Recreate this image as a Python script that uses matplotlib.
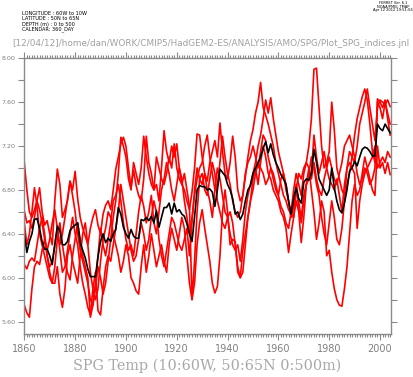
import numpy as np
import matplotlib
matplotlib.use("Agg")
import matplotlib.pyplot as plt
from matplotlib.ticker import MultipleLocator, FormatStrFormatter

# SPG temperature indices, 1860-2004 (five members in red, ensemble mean in black)
years = np.arange(1860, 2005)

mean = [6.40, 6.23, 6.33, 6.40, 6.53, 6.54, 6.45, 6.33, 6.26, 6.26,
        6.20, 6.12, 6.30, 6.47, 6.43, 6.30, 6.30, 6.33, 6.43, 6.46,
        6.48, 6.50, 6.32, 6.25, 6.18, 6.08, 6.01, 6.01, 6.01, 6.19,
        6.33, 6.40, 6.32, 6.36, 6.33, 6.40, 6.44, 6.64, 6.58, 6.46,
        6.40, 6.36, 6.44, 6.38, 6.36, 6.36, 6.53, 6.52, 6.55, 6.52,
        6.56, 6.50, 6.61, 6.46, 6.55, 6.64, 6.64, 6.68, 6.58, 6.68,
        6.60, 6.62, 6.58, 6.56, 6.49, 6.40, 6.33, 6.55, 6.80, 6.84,
        6.83, 6.83, 6.80, 6.81, 6.78, 6.65, 6.80, 6.99, 6.96, 6.93,
        6.85, 6.80, 6.72, 6.58, 6.60, 6.53, 6.58, 6.70, 6.80, 6.84,
        6.95, 7.00, 7.05, 7.10, 7.18, 7.24, 7.14, 7.22, 7.12, 7.05,
        7.00, 6.94, 6.90, 6.85, 6.70, 6.58, 6.72, 6.82, 6.72, 6.68,
        6.87, 6.90, 6.89, 6.95, 7.17, 7.05, 6.90, 6.85, 6.80, 6.75,
        6.80, 7.00, 6.82, 6.70, 6.62, 6.59, 6.68, 6.80, 6.97, 7.00,
        7.06, 7.02, 7.10, 7.17, 7.19, 7.18, 7.15, 7.11, 7.11, 7.40,
        7.36, 7.34, 7.40, 7.36, 7.32]

run1 = [7.05, 6.80, 6.60, 6.55, 6.62, 6.70, 6.82, 6.60, 6.48, 6.52,
        6.40, 6.30, 6.70, 6.99, 6.85, 6.55, 6.62, 6.70, 6.88, 6.80,
        6.97, 6.72, 6.55, 6.45, 6.38, 6.30, 6.45, 6.55, 6.62, 6.48,
        6.40, 6.58, 6.66, 6.70, 6.62, 6.80, 6.99, 7.10, 7.22, 7.28,
        7.20, 7.00, 6.82, 6.98, 6.84, 6.75, 6.70, 6.90, 7.29, 7.05,
        6.95, 6.80, 6.85, 6.70, 7.00, 7.34, 7.15, 7.05, 7.20, 7.10,
        7.22, 7.00, 6.85, 6.80, 6.70, 6.62, 6.78, 7.00, 7.31, 7.30,
        7.10, 6.95, 6.88, 7.05, 7.15, 7.25, 7.10, 7.41, 7.15, 6.95,
        6.90, 7.05, 7.29, 7.10, 6.80, 6.70, 6.75, 6.92, 7.10, 7.25,
        7.35, 7.50, 7.60, 7.78, 7.55, 7.48, 7.40, 7.30, 7.20, 7.05,
        6.95, 6.85, 6.75, 6.70, 6.62, 6.58, 6.55, 6.80, 6.95, 6.90,
        7.00, 7.05, 7.20, 7.45, 7.90, 7.91, 7.55, 7.20, 7.00, 7.05,
        7.15, 7.60, 7.35, 7.00, 6.90, 6.80, 6.75, 6.85, 6.95, 7.10,
        7.30, 7.45, 7.55, 7.65, 7.72, 7.62, 7.40, 7.15, 7.05, 7.63,
        7.60, 7.55, 7.62, 7.45, 7.30]

run2 = [5.75, 5.68, 5.64, 5.90, 6.10, 6.15, 6.12, 6.25, 6.35, 6.20,
        6.05, 5.95, 5.95, 6.10, 5.85, 5.73, 5.90, 6.20, 6.30, 6.15,
        6.05, 5.95, 6.20, 6.40, 6.50, 6.30, 6.05, 5.90, 5.80, 5.90,
        6.15, 6.35, 6.45, 6.60, 6.55, 6.40, 6.30, 6.20, 6.05, 6.15,
        6.30, 6.20, 6.00, 5.95, 5.88, 5.85, 6.10, 6.30, 6.05, 6.20,
        6.40, 6.25, 6.10, 6.20, 6.30, 6.15, 6.05, 6.30, 6.45, 6.35,
        6.25, 6.40, 6.55, 6.45, 6.20, 5.95, 5.80, 5.95, 6.30, 6.50,
        6.62, 6.45, 6.30, 6.15, 5.95, 5.86, 5.92, 6.20, 6.60, 6.80,
        6.60, 6.30, 6.35, 6.33, 6.05, 6.00, 6.25, 6.40, 6.55, 6.70,
        6.90, 7.00, 6.85, 7.05, 7.20, 7.10, 6.95, 6.90, 6.80, 6.75,
        6.70, 6.60, 6.55, 6.45, 6.23, 6.40, 6.55, 6.70, 6.60, 6.32,
        6.55, 6.85, 7.00, 6.80, 6.60, 6.35, 6.50, 6.70, 6.60, 6.20,
        6.25, 6.05, 5.90, 5.80, 5.75, 5.74, 5.90, 6.10, 6.40, 6.70,
        6.85, 6.75, 6.80, 6.95, 7.10, 7.00, 6.90, 6.80, 6.75, 7.20,
        7.00, 7.05, 6.95, 7.05, 6.94]

run3 = [6.12, 6.08, 6.15, 6.18, 6.15, 6.30, 6.45, 6.55, 6.40, 6.20,
        6.10, 6.15, 6.30, 6.45, 6.25, 6.05, 6.10, 6.25, 6.40, 6.55,
        6.40, 6.30, 6.10, 5.95, 5.85, 5.73, 5.66, 5.90, 6.05, 5.70,
        5.66, 5.90, 6.10, 6.20, 6.15, 6.30, 6.45, 6.60, 6.85, 6.70,
        6.55, 6.40, 6.25, 6.15, 6.20, 6.35, 6.50, 6.40, 6.25, 6.35,
        6.55, 6.70, 6.60, 6.35, 6.20, 6.10, 6.25, 6.40, 6.55, 6.50,
        6.40, 6.30, 6.25, 6.35, 6.45, 6.20, 6.50, 6.80, 7.00, 6.90,
        6.85, 6.95, 6.80, 6.70, 6.55, 6.80, 7.00, 6.90, 6.75, 6.60,
        6.55, 6.40, 6.30, 6.25, 6.30, 6.15, 6.35, 6.60, 6.75, 6.85,
        6.95, 7.05, 7.20, 7.30, 7.45, 7.62, 7.50, 7.64, 7.45, 7.30,
        7.15, 7.05, 6.95, 6.80, 6.70, 6.55, 6.65, 6.85, 6.70, 6.50,
        6.70, 6.85, 6.95, 7.10, 7.00, 6.85, 6.75, 6.55, 6.40, 6.30,
        6.50, 6.70, 6.55, 6.35, 6.30, 6.45, 6.70, 7.00, 7.15, 7.10,
        7.05, 7.20, 7.40, 7.50, 7.60, 7.72, 7.55, 7.40, 7.25, 7.55,
        7.62, 7.60, 7.58, 7.62, 7.56]

run4 = [6.61, 6.50, 6.52, 6.45, 6.55, 6.70, 6.62, 6.50, 6.35, 6.25,
        6.35, 6.50, 6.62, 6.45, 6.30, 6.40, 6.55, 6.72, 6.88, 6.75,
        6.60, 6.40, 6.25, 6.15, 6.05, 5.95, 5.80, 5.75, 5.95, 6.20,
        6.45, 6.30, 6.20, 6.35, 6.50, 6.70, 6.75, 6.85, 6.70, 6.50,
        6.35, 6.25, 6.30, 6.20, 6.40, 6.60, 6.75, 6.65, 6.50, 6.60,
        6.75, 6.50, 6.40, 6.60, 6.80, 6.90, 7.05, 6.95, 6.80, 6.70,
        6.85, 7.00, 6.90, 6.70, 6.55, 6.40, 6.55, 6.75, 6.90, 7.00,
        7.05, 7.20, 7.30, 7.10, 6.95, 6.80, 6.85, 7.05, 7.29, 7.10,
        6.95, 6.85, 6.70, 6.60, 6.55, 6.60, 6.75, 6.95, 7.05, 7.10,
        7.20, 7.10, 7.00, 7.15, 7.30, 7.25, 7.10, 7.00, 6.90, 6.80,
        6.75, 6.65, 6.60, 6.50, 6.45, 6.60, 6.80, 6.95, 6.85, 6.75,
        6.95, 7.05, 7.00, 6.90, 7.05, 6.90, 6.80, 6.75, 6.90, 7.00,
        7.10, 7.00, 6.90, 6.85, 6.95, 7.05, 7.20, 7.25, 7.30, 7.20,
        7.10, 6.95, 6.85, 6.90, 7.00, 6.95, 6.85, 6.90, 7.00, 7.60,
        7.55, 7.45, 7.60, 7.50, 7.40]

run5 = [6.50, 6.30, 6.40, 6.60, 6.82, 6.65, 6.40, 6.30, 6.20, 6.10,
        6.00, 5.95, 6.10, 6.35, 6.50, 6.30, 6.15, 6.05, 5.98, 6.20,
        6.35, 6.50, 6.35, 6.20, 6.10, 6.00, 5.64, 5.75, 5.90, 6.10,
        6.00, 5.85, 5.95, 6.15, 6.35, 6.55, 6.70, 6.95, 7.28, 7.20,
        7.10, 6.90, 6.80, 7.05, 6.95, 6.85, 7.00, 7.29, 7.10, 6.95,
        6.85, 6.80, 7.10, 7.00, 6.90, 6.85, 6.95, 7.10, 7.00, 7.22,
        7.00, 6.90, 6.85, 6.95, 6.80, 6.65, 5.80, 6.15, 6.60, 6.90,
        6.95, 6.80, 6.75, 6.90, 7.05, 6.95, 6.70, 6.60, 6.50, 6.45,
        6.55, 6.60, 6.50, 6.30, 6.10, 6.00, 6.05, 6.30, 6.55, 6.70,
        6.80, 6.95, 7.05, 7.00, 6.95, 6.85, 6.90, 7.00, 6.95, 6.85,
        6.75, 6.90, 6.95, 6.85, 6.70, 6.55, 6.70, 6.80, 6.65, 6.55,
        6.75, 6.85, 6.90, 6.95, 7.30, 7.10, 6.95, 7.05, 7.15, 7.00,
        6.90, 6.85, 6.80, 6.90, 6.75, 6.60, 6.85, 7.00, 7.05, 7.00,
        6.95, 6.45, 6.70, 6.85, 6.95, 7.00, 7.05, 7.10, 7.20, 7.00,
        7.05, 7.10, 7.05, 7.15, 7.10]

header = ["LONGITUDE : 60W to 10W", "LATITUDE : 50N to 65N",
          "DEPTH (m) : 0 to 500", "CALENDAR: 360_DAY"]
stamp = ["FERRET Ver. 6.1", "NOAA/PMEL TMAP", "Apr 12 2012 19:51:56"]
jnl = "[12/04/12]/home/dan/WORK/CMIP5/HadGEM2-ES/ANALYSIS/AMO/SPG/Plot_SPG_indices.jnl"
title = "SPG Temp (10:60W, 50:65N 0:500m)"

grey = "#8a8a8a"

fig = plt.figure(figsize=(4.14, 3.77), dpi=100)
ax = fig.add_axes([0.0587, 0.1141, 0.885, 0.7313])

for r in [run1, run2, run3, run4, run5]:
    ax.plot(years, r, color="red", lw=1.2)
ax.plot(years, mean, color="black", lw=1.2)

ax.set_xlim(1860, 2004.2)
ax.set_ylim(5.487, 8.0)

ax.xaxis.set_major_locator(MultipleLocator(20))
ax.xaxis.set_minor_locator(MultipleLocator(1))
ax.yaxis.set_major_locator(MultipleLocator(0.4))
ax.yaxis.set_minor_locator(MultipleLocator(0.2))
ax.yaxis.set_major_formatter(FormatStrFormatter("%.2f"))

ax.tick_params(axis="both", which="both", direction="out", color=grey,
               top=True, right=True, width=0.8)
ax.tick_params(axis="x", which="major", length=4, labelsize=7, pad=3,
               labelcolor="#808080")
ax.tick_params(axis="x", which="minor", length=2)
ax.tick_params(axis="y", which="both", length=4, labelsize=4.6, pad=2.5,
               labelcolor="#808080")
for s in ax.spines.values():
    s.set_color(grey)
    s.set_linewidth(1.0)

for i, t in enumerate(header):
    fig.text(22 / 414, 1 - (13.5 + 5.3 * i) / 377, t, fontsize=3.6,
             va="center", ha="left", color="black")
for i, t in enumerate(stamp):
    fig.text(393 / 414, 1 - (3.4 + 3.2 * i) / 377, t, fontsize=2.6,
             va="center", ha="center", color="black")
fig.text(211 / 414, 1 - 44 / 377, jnl, fontsize=6.4, ha="center",
         va="center", color="#a0a0a0")
fig.text(207.5 / 414, 1 - 366 / 377, title, fontsize=10.4, ha="center",
         va="center", color="#a8a8a8", family="DejaVu Serif")

fig.savefig("out.png", dpi=100)
